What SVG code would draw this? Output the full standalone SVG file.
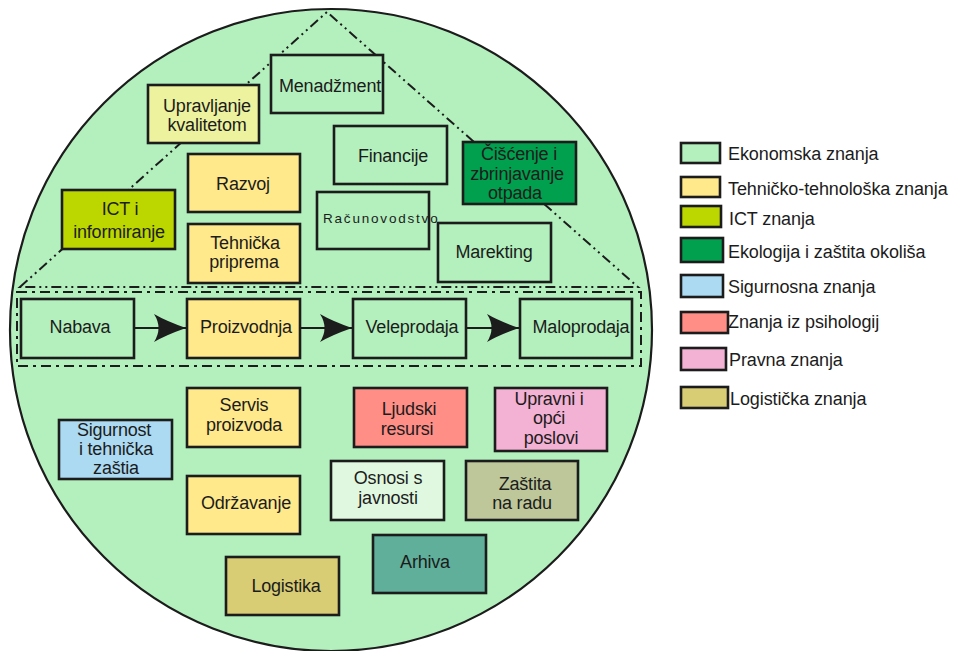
<svg xmlns="http://www.w3.org/2000/svg" width="955" height="651" viewBox="0 0 955 651">
<defs>
<style>
.bx{stroke:#1c1c1c;stroke-width:2.6}
.t{font-family:"Liberation Sans",Arial,sans-serif;font-size:18px;fill:#1c1c1c;text-anchor:middle;letter-spacing:-0.2px}
.lt{font-family:"Liberation Sans",Arial,sans-serif;font-size:18px;fill:#1c1c1c;letter-spacing:-0.1px}
.eco{fill:#B3F0BD}
.teh{fill:#FFE98B}
.ict{fill:#BCD600}
.ekol{fill:#00A04E}
.sig{fill:#ABDAF2}
.psi{fill:#FF8E87}
.pra{fill:#F3B1D3}
.log{fill:#D8CC74}
.ddot{fill:none;stroke:#1c1c1c;stroke-width:2;stroke-dasharray:10 4 2 4 2 4}
.dot{fill:none;stroke:#1c1c1c;stroke-width:2;stroke-dasharray:10 5 3 5}
.con{stroke:#1c1c1c;stroke-width:2.2;fill:none}
</style>
<marker id="ah" markerUnits="userSpaceOnUse" markerWidth="34" markerHeight="30" refX="32" refY="14" orient="auto">
<path d="M0,0 Q12,7 32,14 Q12,21 0,28 Q9,14 0,0 Z" fill="#1c1c1c"/>
</marker>
</defs>
<g id="background">
<circle cx="331" cy="330" r="321" fill="#B3F0BD" stroke="#1c1c1c" stroke-width="2.2"/>
<path class="ddot" d="M20,287 L327,12 L638,287 Z"/>
<rect class="dot" x="17" y="292" width="624" height="74"/>
</g>
<g id="n-menadzment"><rect class="bx eco" x="271" y="55" width="112" height="58"/><text class="t" x="330" y="92">Menadžment</text></g>
<g id="n-upravljanje"><rect class="bx" fill="#EDF29E" x="148" y="85" width="111" height="58"/><text class="t" x="207" y="112">Upravljanje</text><text class="t" x="207" y="131">kvalitetom</text></g>
<g id="n-razvoj"><rect class="bx teh" x="188" y="154" width="112" height="58"/><text class="t" x="243" y="190">Razvoj</text></g>
<g id="n-tehnicka"><rect class="bx teh" x="188" y="224" width="112" height="59"/><text class="t" x="245" y="249">Tehnička</text><text class="t" x="244" y="268">priprema</text></g>
<g id="n-ict"><rect class="bx ict" x="62" y="190" width="113" height="59"/><text class="t" x="120" y="215">ICT i</text><text class="t" x="119" y="238">informiranje</text></g>
<g id="n-financije"><rect class="bx eco" x="334" y="126" width="113" height="58"/><text class="t" x="393" y="162">Financije</text></g>
<g id="n-ciscenje"><rect class="bx ekol" x="463" y="142" width="113" height="62"/><text class="t" x="519" y="160">Čišćenje i</text><text class="t" x="517" y="180">zbrinjavanje</text><text class="t" x="515" y="199">otpada</text></g>
<g id="n-racunovodstvo"><rect class="bx eco" x="317" y="192" width="112" height="57"/><text x="323" y="223" font-family="Liberation Sans, Arial, sans-serif" font-size="13.5" letter-spacing="1.8" fill="#1c1c1c">Računovodstvo</text></g>
<g id="n-marketing"><rect class="bx eco" x="438" y="223" width="113" height="59"/><text class="t" x="494" y="258">Marekting</text></g>
<g id="n-nabava"><rect class="bx eco" x="21" y="299" width="113" height="59"/><text class="t" x="80" y="333">Nabava</text></g>
<g id="n-proizvodnja"><rect class="bx teh" x="187" y="299" width="113" height="59"/><text class="t" x="246" y="333">Proizvodnja</text></g>
<g id="n-veleprodaja"><rect class="bx eco" x="353" y="299" width="113" height="59"/><text class="t" x="412" y="333">Veleprodaja</text></g>
<g id="n-maloprodaja"><rect class="bx eco" x="520" y="299" width="112" height="59"/><text class="t" x="581" y="333">Maloprodaja</text></g>
<g id="n-sigurnost"><rect class="bx sig" x="59" y="420" width="113" height="59"/><text class="t" x="114" y="436">Sigurnost</text><text class="t" x="116" y="455">i tehnička</text><text class="t" x="116" y="474">zaštia</text></g>
<g id="n-servis"><rect class="bx teh" x="187" y="388" width="113" height="59"/><text class="t" x="244" y="411">Servis</text><text class="t" x="244" y="431">proizvoda</text></g>
<g id="n-odrzavanje"><rect class="bx teh" x="187" y="476" width="113" height="58"/><text class="t" x="246" y="509">Održavanje</text></g>
<g id="n-logistika"><rect class="bx log" x="226" y="557" width="113" height="58"/><text class="t" x="286" y="592">Logistika</text></g>
<g id="n-ljudski"><rect class="bx psi" x="354" y="388" width="113" height="59"/><text class="t" x="409" y="415">Ljudski</text><text class="t" x="407" y="435">resursi</text></g>
<g id="n-upravni"><rect class="bx pra" x="495" y="388" width="112" height="63"/><text class="t" x="549" y="405">Upravni i</text><text class="t" x="549" y="424">opći</text><text class="t" x="551" y="444">poslovi</text></g>
<g id="n-osnosi"><rect class="bx" fill="#E0F8E0" x="331" y="461" width="113" height="59"/><text class="t" x="388" y="484">Osnosi s</text><text class="t" x="388" y="504">javnosti</text></g>
<g id="n-zastita"><rect class="bx" fill="#BDC79A" x="466" y="461" width="112" height="59"/><text class="t" x="525" y="490">Zaštita</text><text class="t" x="522" y="509">na radu</text></g>
<g id="n-arhiva"><rect class="bx" fill="#5FAF9A" x="373" y="535" width="113" height="58"/><text class="t" x="425" y="568">Arhiva</text></g>
<g id="connectors">
<line class="con" x1="134" y1="328" x2="186" y2="328" marker-end="url(#ah)"/>
<line class="con" x1="300" y1="328" x2="352" y2="328" marker-end="url(#ah)"/>
<line class="con" x1="466" y1="328" x2="519" y2="328" marker-end="url(#ah)"/>
</g>
<g id="legend">
<g id="lg-eko"><rect class="bx eco" x="681" y="143" width="39" height="20"/><text class="lt" x="728" y="160">Ekonomska znanja</text></g>
<g id="lg-teh"><rect class="bx teh" x="681" y="177" width="39" height="20"/><text class="lt" x="728" y="195">Tehničko-tehnološka znanja</text></g>
<g id="lg-ict"><rect class="bx ict" x="681" y="206" width="40" height="21"/><text class="lt" x="729" y="225">ICT znanja</text></g>
<g id="lg-ekol"><rect class="bx ekol" x="681" y="238" width="42" height="24"/><text class="lt" x="728" y="258">Ekologija i zaštita okoliša</text></g>
<g id="lg-sig"><rect class="bx sig" x="681" y="275" width="42" height="22"/><text class="lt" x="728" y="293">Sigurnosna znanja</text></g>
<g id="lg-psi"><rect class="bx psi" x="681" y="312" width="47" height="21"/><text class="lt" x="728" y="328">Znanja iz psihologij</text></g>
<g id="lg-pra"><rect class="bx pra" x="681" y="348" width="45" height="22"/><text class="lt" x="729" y="366">Pravna znanja</text></g>
<g id="lg-log"><rect class="bx log" x="681" y="387" width="47" height="21"/><text class="lt" x="730" y="405">Logistička znanja</text></g>
</g>
</svg>
